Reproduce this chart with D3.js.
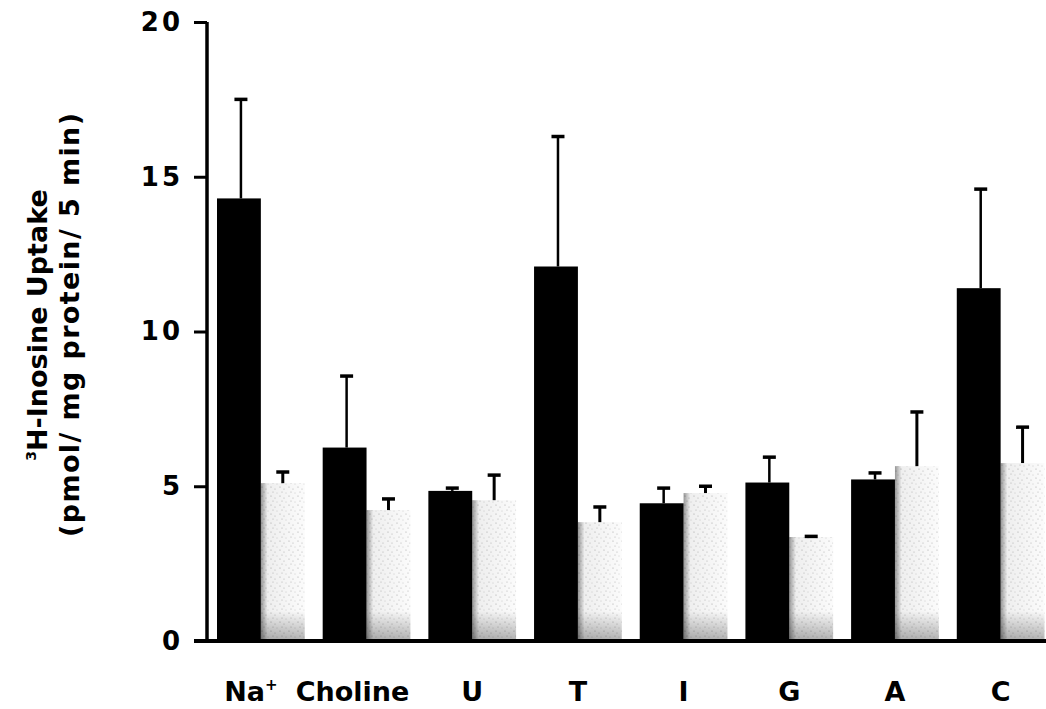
<!DOCTYPE html>
<html>
<head>
<meta charset="utf-8">
<script src="https://cdn.jsdelivr.net/npm/d3@7"></script>
<style>
  html, body { margin: 0; padding: 0; background: #fff; }
  svg { display: block; }
  text { font-family: "DejaVu Sans", "Liberation Sans", Arial, sans-serif; font-weight: bold; fill: #000; }
</style>
</head>
<body>
<svg id="chart" width="1046" height="709"></svg>
<script>
// ---- data ----
const categories = ["Na+", "Choline", "U", "T", "I", "G", "A", "C"];
const blackValues = [14.3, 6.25, 4.85, 12.1, 4.45, 5.12, 5.22, 11.4];
const blackErrTop = [17.5, 8.56, 4.94, 16.3, 4.94, 5.94, 5.43, 14.6];
const greyValues  = [5.1, 4.23, 4.55, 3.84, 4.78, 3.36, 5.65, 5.75];
const greyErrTop  = [5.46, 4.59, 5.36, 4.33, 5.0, 3.38, 7.40, 6.91];
const yTicks = [0, 5, 10, 15, 20];

// ---- layout ----
const W = 1046, H = 709;
const axisX = 207, y0px = 641, yTopPx = 22;
const labelNudge = [-10, -14, 0, 0, 0, 0, 0, 0];
const svg = d3.select("#chart");

const y = d3.scaleLinear().domain([0, 20]).range([y0px, yTopPx]);
const x0 = d3.scaleBand().domain(categories).range([217, 1044.5]).paddingInner(0.17).paddingOuter(0);
const x1 = d3.scaleBand().domain(["black", "grey"]).range([0, x0.bandwidth()]).padding(0);

// stipple pattern
const defs = svg.append("defs");
const pat = defs.append("pattern").attr("id", "stip").attr("patternUnits", "userSpaceOnUse")
  .attr("width", 9).attr("height", 9);
pat.append("rect").attr("width", 9).attr("height", 9).attr("fill", "#fbfbfb");
[[1,1,0.6],[5,3,0.5],[3,6,0.5],[7,7,0.45]].forEach(d =>
  pat.append("circle").attr("cx", d[0]).attr("cy", d[1]).attr("r", d[2]).attr("fill", "#a8a8a8"));
const gL = defs.append("linearGradient").attr("id", "edgeL").attr("x1", 0).attr("x2", 1).attr("y1", 0).attr("y2", 0);
gL.append("stop").attr("offset", 0).attr("stop-color", "#000").attr("stop-opacity", 0.4);
gL.append("stop").attr("offset", 0.15).attr("stop-color", "#000").attr("stop-opacity", 0.05);
gL.append("stop").attr("offset", 1).attr("stop-color", "#000").attr("stop-opacity", 0.0);
const gB = defs.append("linearGradient").attr("id", "edgeB").attr("x1", 0).attr("x2", 0).attr("y1", 0).attr("y2", 1);
gB.append("stop").attr("offset", 0).attr("stop-color", "#000").attr("stop-opacity", 0);
gB.append("stop").attr("offset", 1).attr("stop-color", "#000").attr("stop-opacity", 0.3);

const rows = categories.map((c, i) => ({
  cat: c, i, b: blackValues[i], be: blackErrTop[i], g: greyValues[i], ge: greyErrTop[i]
}));

const bars = svg.append("g");
const gx = d => x0(d.cat) + x1("grey");
const bw = x1.bandwidth();
bars.selectAll("rect.grey").data(rows).join("rect").attr("class", "grey")
  .attr("x", gx).attr("y", d => y(d.g)).attr("width", bw).attr("height", d => y(0) - y(d.g))
  .attr("fill", "url(#stip)");
bars.selectAll("rect.greyL").data(rows).join("rect").attr("class", "greyL")
  .attr("x", gx).attr("y", d => y(d.g)).attr("width", bw).attr("height", d => y(0) - y(d.g))
  .attr("fill", "url(#edgeL)");
bars.selectAll("rect.greyB").data(rows).join("rect").attr("class", "greyB")
  .attr("x", gx).attr("y", d => Math.max(y(d.g), y(0) - 30)).attr("width", bw)
  .attr("height", d => y(0) - Math.max(y(d.g), y(0) - 30))
  .attr("fill", "url(#edgeB)");

// black bars
bars.selectAll("rect.black").data(rows).join("rect").attr("class", "black")
  .attr("x", d => x0(d.cat) + x1("black")).attr("y", d => y(d.b))
  .attr("width", bw).attr("height", d => y(0) - y(d.b)).attr("fill", "#000");

// error bars
const capW = 13;
function errBars(cls, key, vKey, eKey, stemW) {
  const cx = d => x0(d.cat) + x1(key) + bw / 2 + (key === "black" ? 2 : 0);
  const g = svg.append("g").attr("class", cls);
  g.selectAll("line.stem").data(rows).join("line").attr("class", "stem")
    .attr("x1", cx).attr("x2", cx).attr("y1", d => y(d[vKey])).attr("y2", d => y(d[eKey]))
    .attr("stroke", "#000").attr("stroke-width", stemW);
  g.selectAll("line.cap").data(rows).join("line").attr("class", "cap")
    .attr("x1", d => cx(d) - capW / 2).attr("x2", d => cx(d) + capW / 2)
    .attr("y1", d => y(d[eKey])).attr("y2", d => y(d[eKey]))
    .attr("stroke", "#000").attr("stroke-width", 3.5);
}
errBars("errB", "black", "b", "be", 2.5);
errBars("errG", "grey", "g", "ge", 3);

// y axis
const yAxis = d3.axisLeft(y).tickValues(yTicks).tickSize(13).tickPadding(14).tickFormat(d3.format("d"));
const ya = svg.append("g").attr("transform", `translate(${axisX},0)`).call(yAxis);
ya.attr("font-family", null);
ya.select(".domain").attr("stroke", "#000").attr("stroke-width", 3.5).attr("d", `M0,${yTopPx}V${y0px}`);
ya.selectAll(".tick line").attr("stroke", "#000").attr("stroke-width", 3);
ya.selectAll(".tick text").attr("font-size", 26).attr("dx", 3)
  .style("letter-spacing", "3px").attr("fill", "#000");

// x baseline
svg.append("line").attr("x1", axisX - 13).attr("x2", W).attr("y1", y(0)).attr("y2", y(0))
  .attr("stroke", "#000").attr("stroke-width", 4);

// x labels
const xl = svg.append("g");
rows.forEach(d => {
  const t = xl.append("text").attr("x", x0(d.cat) + x0.bandwidth() / 2 + labelNudge[d.i]).attr("y", 701)
    .attr("text-anchor", "middle").attr("font-size", 27);
  if (d.cat === "Na+") {
    t.append("tspan").text("Na");
    t.append("tspan").text("+").attr("font-size", 15).attr("dy", -11);
  } else {
    t.text(d.cat);
  }
});

// y title
const t1 = svg.append("text").attr("transform", "translate(47,325) rotate(-90)")
  .attr("text-anchor", "middle").attr("font-size", 27);
t1.append("tspan").text("3").attr("font-size", 14).attr("dy", -11);
t1.append("tspan").text("H-Inosine  Uptake").attr("dy", 11);
svg.append("text").attr("transform", "translate(79,325) rotate(-90)")
  .attr("text-anchor", "middle").attr("font-size", 27)
  .attr("textLength", 424).attr("lengthAdjust", "spacing")
  .text("(pmol/ mg protein/ 5 min)");
</script>
</body>
</html>
